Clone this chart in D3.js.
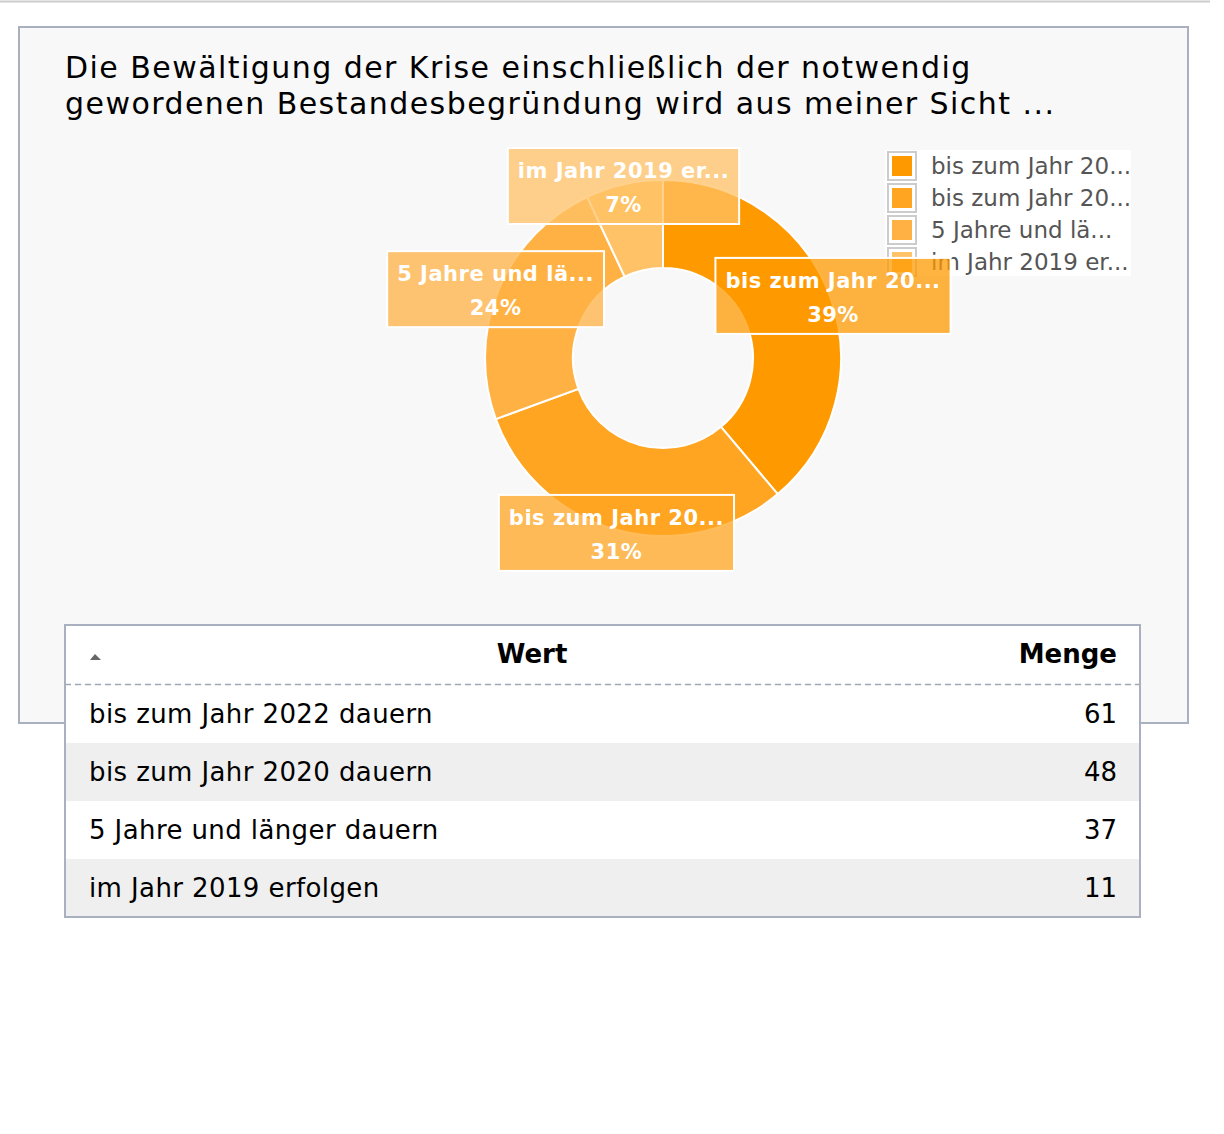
<!DOCTYPE html>
<html>
<head>
<meta charset="utf-8">
<script src="https://cdn.jsdelivr.net/npm/d3@7"></script>
<style>
  body { margin: 0; background: #fff; }
  svg { display: block; font-family: "DejaVu Sans", Verdana, sans-serif; }
</style>
</head>
<body>
<svg id="chart" width="1224" height="1134"></svg>
<script>
// data
var categories = ["bis zum Jahr 2022 dauern", "bis zum Jahr 2020 dauern", "5 Jahre und länger dauern", "im Jahr 2019 erfolgen"];
var shortLabels = ["bis zum Jahr 20...", "bis zum Jahr 20...", "5 Jahre und lä...", "im Jahr 2019 er..."];
var values = [61, 48, 37, 11];
var colors = ["#ff9900", "#ffa521", "#ffb243", "#ffc266"];
var titleLines = ["Die Bewältigung der Krise einschließlich der notwendig", "gewordenen Bestandesbegründung wird aus meiner Sicht ..."];
var columns = ["Wert", "Menge"];

var svg = d3.select("#chart");

// top rule
svg.append("line")
    .attr("x1", 0).attr("x2", 1210)
    .attr("y1", 1.5).attr("y2", 1.5)
    .attr("stroke", "#cccccc")
    .attr("stroke-width", 2);

// panel
svg.append("rect")
    .attr("x", 19).attr("y", 27)
    .attr("width", 1169).attr("height", 696)
    .attr("fill", "#f8f8f8")
    .attr("stroke", "#a9b1c1")
    .attr("stroke-width", 2);

svg.selectAll("text.title")
    .data(titleLines)
    .enter()
    .append("text")
    .attr("class", "title")
    .attr("x", 65)
    .attr("y", function (d, i) { return 78 + i * 36; })
    .attr("font-size", "30px")
    .attr("letter-spacing", "1.45px")
    .attr("fill", "#000")
    .text(function (d) { return d; });

// donut
var cx = 663, cy = 358;
var outerR = 178, innerR = 90, labelR = 181;

var pie = d3.pie().sort(null).value(function (d) { return d; });
var arcs = pie(values);

var arc = d3.arc().innerRadius(innerR).outerRadius(outerR);
var labelArc = d3.arc().innerRadius(labelR).outerRadius(labelR);

var g = svg.append("g").attr("transform", "translate(" + cx + "," + cy + ")");

g.selectAll("path")
    .data(arcs)
    .enter()
    .append("path")
    .attr("d", arc)
    .attr("fill", function (d, i) { return colors[i]; })
    .attr("stroke", "#ffffff")
    .attr("stroke-width", 2);

// legend
var legend = svg.append("g").attr("transform", "translate(885,150)");
legend.append("rect")
    .attr("width", 246).attr("height", 126)
    .attr("fill", "#ffffff");

var items = legend.selectAll("g.item")
    .data(categories)
    .enter()
    .append("g")
    .attr("class", "item")
    .attr("transform", function (d, i) { return "translate(0," + (i * 32) + ")"; });

items.append("rect")
    .attr("x", 3).attr("y", 2)
    .attr("width", 28).attr("height", 28)
    .attr("fill", "#ffffff")
    .attr("stroke", "#cccccc")
    .attr("stroke-width", 2);

items.append("rect")
    .attr("x", 7).attr("y", 6)
    .attr("width", 20).attr("height", 20)
    .attr("fill", function (d, i) { return colors[i]; });

items.append("text")
    .attr("x", 46)
    .attr("y", 24)
    .attr("font-size", "23px")
    .attr("fill", "#555555")
    .text(function (d, i) { return shortLabels[i]; });

// data labels
var total = d3.sum(values);
var labels = svg.append("g");

arcs.forEach(function (d, i) {
    var c = labelArc.centroid(d);
    var lx = cx + c[0];
    var ly = cy + c[1];
    var lg = labels.append("g");

    var t1 = lg.append("text")
        .attr("text-anchor", "middle")
        .attr("font-size", "21px")
        .attr("font-weight", "bold")
        .attr("letter-spacing", "0.5px")
        .attr("fill", "#ffffff")
        .text(shortLabels[i]);

    var t2 = lg.append("text")
        .attr("text-anchor", "middle")
        .attr("font-size", "21px")
        .attr("font-weight", "bold")
        .attr("letter-spacing", "0.5px")
        .attr("fill", "#ffffff")
        .text(Math.round(values[i] / total * 100) + "%");

    var bw = Math.max(t1.node().getComputedTextLength(), t2.node().getComputedTextLength()) + 20;
    var bh = 76;
    var top = Math.max(ly - bh / 2, 148);
    var mid = top + bh / 2;

    t1.attr("x", lx).attr("y", mid - 8);
    t2.attr("x", lx).attr("y", mid + 26);

    lg.insert("rect", "text")
        .attr("x", lx - bw / 2)
        .attr("y", top)
        .attr("width", bw)
        .attr("height", bh)
        .attr("fill", colors[i])
        .attr("fill-opacity", 0.75)
        .attr("stroke", "#ffffff")
        .attr("stroke-width", 2);
});

// table
var tx = 65, ty = 625, tw = 1075, headH = 59, rowH = 58;
var table = svg.append("g");

table.append("rect")
    .attr("x", tx).attr("y", ty)
    .attr("width", tw).attr("height", headH)
    .attr("fill", "#ffffff");

table.selectAll("rect.row")
    .data(values)
    .enter()
    .append("rect")
    .attr("class", "row")
    .attr("x", tx)
    .attr("y", function (d, i) { return ty + headH + 1 + i * rowH; })
    .attr("width", tw)
    .attr("height", rowH)
    .attr("fill", function (d, i) { return i % 2 ? "#efefef" : "#ffffff"; });

table.append("line")
    .attr("x1", tx).attr("x2", tx + tw)
    .attr("y1", ty + headH + 0.5).attr("y2", ty + headH + 0.5)
    .attr("stroke", "#a0a8b8")
    .attr("stroke-width", 1.5)
    .attr("stroke-dasharray", "6,4");

// sort marker
table.append("path")
    .attr("d", "M90,660 L95,654 L101,660 Z")
    .attr("fill", "#666666");

table.append("text")
    .attr("x", 532).attr("y", 663)
    .attr("text-anchor", "middle")
    .attr("font-size", "26px")
    .attr("font-weight", "bold")
    .text(columns[0]);

table.append("text")
    .attr("x", 1117).attr("y", 663)
    .attr("text-anchor", "end")
    .attr("font-size", "26px")
    .attr("font-weight", "bold")
    .text(columns[1]);

table.selectAll("text.cat")
    .data(categories)
    .enter()
    .append("text")
    .attr("class", "cat")
    .attr("x", 89)
    .attr("y", function (d, i) { return ty + headH + 1 + i * rowH + rowH / 2 + 9; })
    .attr("font-size", "26px")
    .attr("letter-spacing", "0.4px")
    .attr("fill", "#000")
    .text(function (d) { return d; });

table.selectAll("text.val")
    .data(values)
    .enter()
    .append("text")
    .attr("class", "val")
    .attr("x", 1117)
    .attr("y", function (d, i) { return ty + headH + 1 + i * rowH + rowH / 2 + 9; })
    .attr("text-anchor", "end")
    .attr("font-size", "26px")
    .attr("fill", "#000")
    .text(function (d) { return d; });

table.append("rect")
    .attr("x", tx).attr("y", ty)
    .attr("width", tw).attr("height", headH + 1 + rowH * values.length)
    .attr("fill", "none")
    .attr("stroke", "#a9b1c1")
    .attr("stroke-width", 2);
</script>
</body>
</html>
